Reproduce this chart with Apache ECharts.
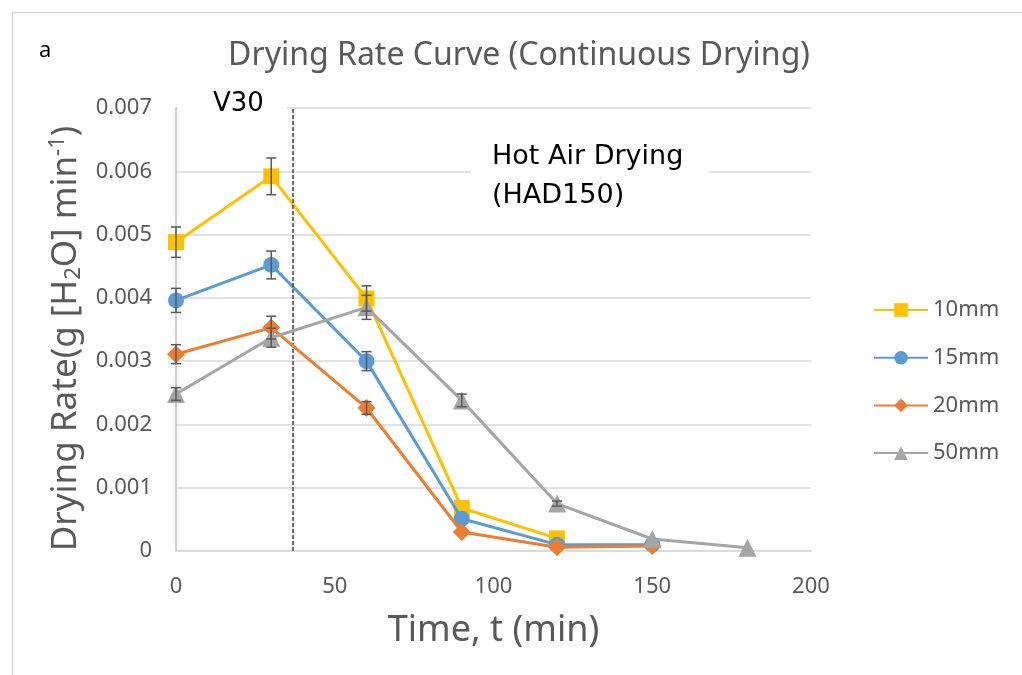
<!DOCTYPE html>
<html>
<head>
<meta charset="utf-8">
<script src="https://cdn.jsdelivr.net/npm/echarts@6/dist/echarts.min.js"></script>
<style>html,body{margin:0;padding:0;background:#fff}#c{width:1022px;height:675px}</style>
</head>
<body>
<div id="c"></div>
<script>
// Data
const times = [0, 30, 60, 90, 120, 150, 180];
const s10 = [0.00488, 0.00592, 0.00399, 0.00068, 0.00020];
const s15 = [0.00396, 0.00452, 0.00300, 0.00051, 0.00010, 0.00010];
const s20 = [0.00311, 0.00353, 0.00226, 0.00030, 0.00006, 0.00008];
const s50 = [0.00248, 0.00337, 0.00385, 0.00238, 0.00075, 0.00019, 0.00005];
const e10 = [0.00024, 0.00029, 0.00020, 0, 0];
const e15 = [0.00019, 0.00022, 0.00015, 0, 0, 0];
const e20 = [0.00015, 0.00018, 0.00010, 0, 0, 0];
const e50 = [0.00010, 0.00015, 0.00019, 0.00010, 0.00004, 0, 0];
const seriesNames = ['10mm', '15mm', '20mm', '50mm'];
const colors = ['#FFC000', '#5B9BD5', '#ED7D31', '#A5A5A5'];
const symbols = ['rect', 'circle', 'diamond', 'triangle'];
const symbolSizes = [16, 16, 18, 18];
const dividerTime = 36.8;

const values = [s10, s15, s20, s50];
const errors = [e10, e15, e20, e50];

const chart = echarts.init(document.getElementById('c'));
const font = 'Noto Sans';
const txt = '#595959';

const series = [];
values.forEach((vals, i) => {
  series.push({
    name: seriesNames[i],
    type: 'line',
    data: vals.map((v, k) => [times[k], v]),
    symbol: symbols[i],
    symbolSize: symbolSizes[i],
    itemStyle: { color: colors[i] },
    lineStyle: { color: colors[i], width: 3 },
    z: 3 + i,
    animation: false
  });
});
values.forEach((vals, i) => {
  series.push({
    name: seriesNames[i] + ' err',
    type: 'custom',
    data: vals.map((v, k) => [times[k], v, errors[i][k]]),
    z: 10,
    silent: true,
    renderItem: function (params, api) {
      const x = api.value(0), y = api.value(1), e = api.value(2);
      if (!e) return null;
      const top = api.coord([x, y + e]);
      const bot = api.coord([x, y - e]);
      const hw = 5;
      const st = { stroke: '#595959', lineWidth: 1.5 };
      return {
        type: 'group',
        children: [
          { type: 'line', shape: { x1: top[0], y1: top[1], x2: bot[0], y2: bot[1] }, style: st },
          { type: 'line', shape: { x1: top[0] - hw, y1: top[1], x2: top[0] + hw, y2: top[1] }, style: st },
          { type: 'line', shape: { x1: bot[0] - hw, y1: bot[1], x2: bot[0] + hw, y2: bot[1] }, style: st }
        ]
      };
    },
    animation: false
  });
});
// divider line
series[0].markLine = {
  silent: true,
  symbol: ['none', 'none'],
  label: { show: false },
  lineStyle: { color: '#404040', type: [4, 2], width: 1.5 },
  data: [{ xAxis: dividerTime }],
  animation: false
};

chart.setOption({
  animation: false,
  backgroundColor: '#fff',
  title: {
    text: 'Drying Rate Curve (Continuous Drying)',
    left: 514, top: 35, textAlign: 'center',
    textStyle: { fontFamily: font, fontSize: 32, fontWeight: 'normal', color: txt }
  },
  grid: { left: 176, right: 211, top: 108, bottom: 124 },
  legend: {
    orient: 'vertical',
    left: 868, top: 294,
    itemWidth: 54, itemHeight: 17, itemGap: 25.7,
    data: seriesNames,
    textStyle: { fontFamily: font, fontSize: 22, color: txt }
  },
  xAxis: {
    type: 'value', min: 0, max: 200, interval: 50,
    name: 'Time, t (min)', nameLocation: 'middle', nameGap: 62,
    nameTextStyle: { fontFamily: font, fontSize: 36, color: txt },
    axisLine: { show: true, lineStyle: { color: '#d9d9d9', width: 1.5 } },
    axisTick: { show: false },
    axisLabel: { fontFamily: font, fontSize: 22, color: txt, margin: 25 },
    splitLine: { show: false }
  },
  yAxis: {
    type: 'value', min: 0, max: 0.007, interval: 0.001,
    name: '{n|Drying Rate(g [H}{sub|2}{n|O] min}{sup|-1}{n|)}',
    nameLocation: 'middle', nameGap: 91, nameRotate: 90,
    nameTextStyle: {
      padding: [0, 18, 0, 0],
      rich: {
        n: { fontFamily: font, fontSize: 35, color: txt },
        sub: { fontFamily: font, fontSize: 22, color: txt, padding: [16, 0, 0, 0] },
        sup: { fontFamily: font, fontSize: 22, color: txt, padding: [0, 0, 16, 0] }
      }
    },
    axisLine: { show: true, lineStyle: { color: '#bfbfbf', width: 1.5 } },
    axisTick: { show: false },
    axisLabel: { fontFamily: font, fontSize: 22, color: txt, margin: 24,
      formatter: v => v === 0 ? '0' : v.toFixed(3) },
    splitLine: { show: true, lineStyle: { color: '#d9d9d9', width: 1.5 } }
  },
  graphic: [
    { type: 'rect', left: 10, top: 10, shape: { width: 1200, height: 800 },
      style: { fill: 'none', stroke: '#d9d9d9', lineWidth: 1.5 }, z: -1, silent: true },
    { type: 'text', left: 39, top: 40, style: { text: 'a', font: '22px "Noto Sans"', fill: '#000' } },
    { type: 'rect', left: 178, top: 92, shape: { width: 109, height: 26 }, style: { fill: '#fff' }, z: 1, silent: true },
    { type: 'text', left: 213, top: 91, style: { text: 'V30', font: '26px "DejaVu Sans"', fill: '#000' }, z: 20 },
    { type: 'rect', left: 471, top: 135, shape: { width: 238, height: 80 }, style: { fill: '#fff' }, z: 1, silent: true },
    { type: 'text', left: 492, top: 137, z: 20,
      style: { text: 'Hot Air Drying\n(HAD150)', font: '27px "DejaVu Sans"', fill: '#000', lineHeight: 39 } }
  ],
  series: series
});
</script>
</body>
</html>
